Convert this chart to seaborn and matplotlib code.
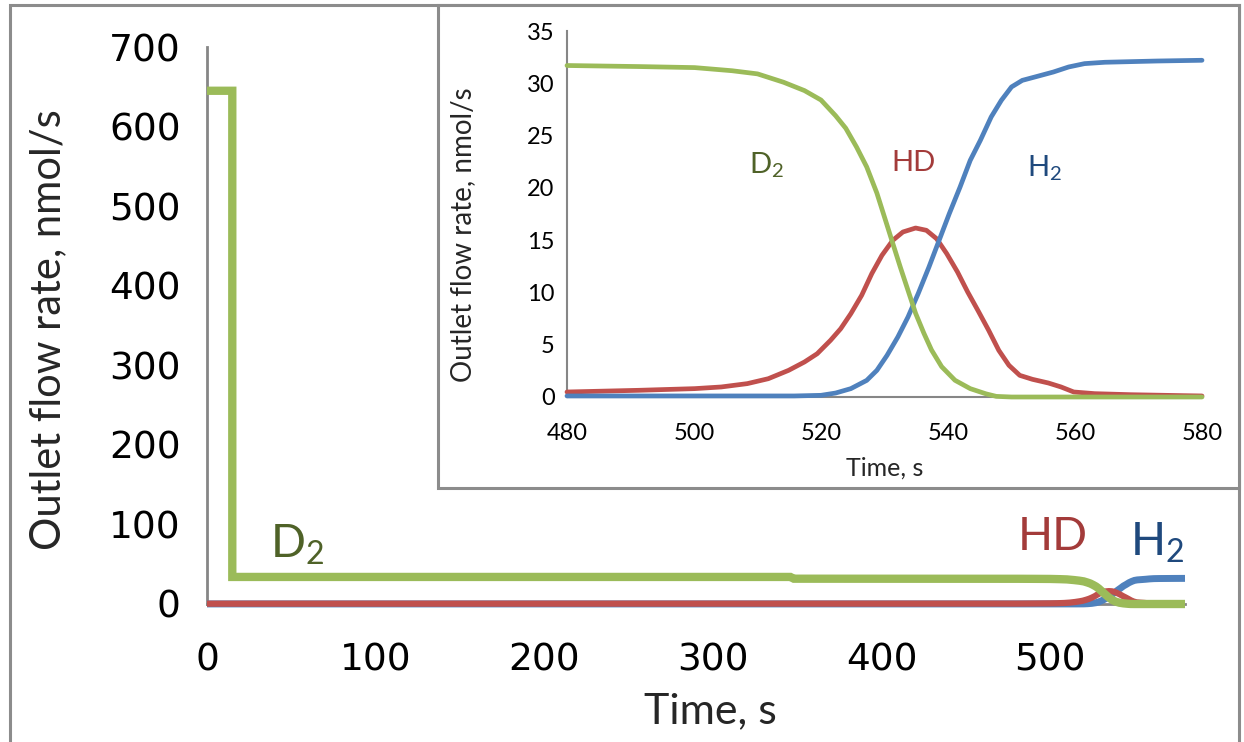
import matplotlib
matplotlib.use("Agg")
import matplotlib.pyplot as plt
from matplotlib.patches import Rectangle
import seaborn as sns
import pandas as pd

# ---- data -------------------------------------------------------------
# early part of the run (main panel only)
d2_early_t = [0, 15, 15, 346, 348, 470]
d2_early_v = [645, 645, 34, 34, 31.8, 31.7]
hd_early_t = [0, 470]
hd_early_v = [0.4, 0.5]
h2_early_t = [0, 470]
h2_early_v = [0.1, 0.1]

# breakthrough region, 480-580 s
d2_t = [480, 491.3, 500.1, 506, 510, 514.1, 517.4, 520, 522.3, 523.9, 525.6,
        527.2, 528.8, 530, 531.3, 532.5, 533.7, 534.9, 536.2, 537.4, 539,
        541.1, 543.5, 546, 547.6, 550, 565, 580]
d2_v = [31.7, 31.6, 31.5, 31.2, 30.9, 30.1, 29.3, 28.4, 26.9, 25.7, 23.9,
        22.0, 19.5, 17.2, 14.7, 12.4, 10.2, 8.0, 6.1, 4.5, 2.9,
        1.6, 0.8, 0.3, 0.06, 0.0, 0.0, 0.0]
hd_t = [480, 491.3, 500.1, 504.3, 508.4, 511.7, 514.9, 517.4, 519.4, 521.5,
        523.1, 524.7, 526.4, 528.0, 529.6, 531.3, 532.9, 534.9, 536.6, 538.2,
        539.8, 541.5, 543.1, 544.7, 546.4, 548.0, 549.6, 551.3, 553.3, 555.8,
        557.8, 559.8, 563.1, 568.8, 577.0, 580]
hd_v = [0.48, 0.64, 0.80, 0.96, 1.28, 1.75, 2.55, 3.35, 4.14, 5.42,
        6.53, 7.97, 9.72, 11.8, 13.55, 14.98, 15.78, 16.16, 15.94, 15.14,
        13.71, 11.95, 10.04, 8.29, 6.38, 4.46, 3.03, 2.07, 1.69, 1.34,
        0.96, 0.48, 0.32, 0.22, 0.13, 0.1]
h2_t = [480, 515.8, 520.0, 522.3, 524.7, 527.2, 528.8, 530.4, 532.1, 533.7,
        535.3, 537.0, 538.6, 540.2, 541.9, 543.5, 545.1, 546.8, 548.4, 550.0,
        551.7, 554.1, 556.6, 559.0, 561.5, 564.7, 568.8, 572.9, 580]
h2_v = [0.1, 0.1, 0.16, 0.38, 0.8, 1.59, 2.55, 3.98, 5.74, 7.65,
        9.88, 12.43, 14.98, 17.53, 20.08, 22.63, 24.55, 26.78, 28.37, 29.65,
        30.28, 30.67, 31.08, 31.56, 31.88, 32.01, 32.07, 32.13, 32.2]

species = ["D$_{\\mathrm{2}}$", "HD", "H$_{\\mathrm{2}}$"]
main_xticks = [0, 100, 200, 300, 400, 500]
main_yticks = [0, 100, 200, 300, 400, 500, 600, 700]
inset_xticks = [480, 500, 520, 540, 560, 580]
inset_yticks = [0, 5, 10, 15, 20, 25, 30, 35]
axis_x_title = "Time, s"
axis_y_title = "Outlet flow rate, nmol/s"

# ---- style ------------------------------------------------------------
sns.set_theme(style="white")
LABEL_FONT = ["Lato", "Open Sans", "DejaVu Sans"]
plt.rcParams["font.family"] = ["DejaVu Sans"]
plt.rcParams["mathtext.fontset"] = "custom"
plt.rcParams["mathtext.rm"] = "Lato"
plt.rcParams["mathtext.it"] = "Lato:italic"

GREEN, RED, BLUE = "#9BBB59", "#C0504D", "#4F81BD"
GREEN_T, RED_T, BLUE_T = "#4F6228", "#A33B3A", "#1F497D"
AXIS = "#868686"

W, H = 1244, 742
fig = plt.figure(figsize=(W / 100, H / 100), dpi=100)


def box(l, t, r, b):
    return [l / W, 1 - b / H, (r - l) / W, (b - t) / H]


def px(x, y):
    return x / W, 1 - y / H


def series(t, v, name):
    return pd.DataFrame({"t": t, "v": v, "s": name})


# ---- main panel -------------------------------------------------------
ax = fig.add_axes(box(207, 47, 1185, 604))
full = pd.concat([
    series(d2_early_t + d2_t, d2_early_v + d2_v, "D2"),
    series(hd_early_t + hd_t, hd_early_v + hd_v, "HD"),
    series(h2_early_t + h2_t, h2_early_v + h2_v, "H2"),
])
for name, col, lw in [("H2", BLUE, 5.0), ("HD", RED, 4.5), ("D2", GREEN, 6)]:
    sns.lineplot(data=full[full.s == name], x="t", y="v", color=col, lw=lw,
                 estimator=None, sort=False, ax=ax, solid_capstyle="butt",
                 solid_joinstyle="miter", clip_on=False, zorder=3)
ax.set_xlim(0, 580)
ax.set_ylim(0, 700)
ax.set_xticks(main_xticks)
ax.set_yticks(main_yticks)
ax.tick_params(axis="both", direction="out", color=AXIS, width=2,
               labelsize=27, labelcolor="black")
ax.tick_params(axis="y", length=10, pad=9)
ax.tick_params(axis="x", length=8, pad=20)
for side in ["top", "right"]:
    ax.spines[side].set_visible(False)
for side in ["left", "bottom"]:
    ax.spines[side].set_color(AXIS)
    ax.spines[side].set_linewidth(2)
    ax.spines[side].set_zorder(2)
ax.set_xlabel("")
ax.set_ylabel("")
ax.grid(False)

fig.text(*px(710, 711), axis_x_title, family=LABEL_FONT, fontsize=31,
         ha="center", va="center")
fig.text(*px(48, 330), axis_y_title, family=LABEL_FONT, fontsize=30,
         rotation=90, ha="center", va="center")

fig.text(*px(297, 545), species[0], color=GREEN_T, fontsize=33,
         family=LABEL_FONT, ha="center", va="center")
fig.text(*px(1053, 537), species[1], color=RED_T, fontsize=33,
         family=LABEL_FONT, ha="center", va="center")
fig.text(*px(1157, 543), species[2], color=BLUE_T, fontsize=33,
         family=LABEL_FONT, ha="center", va="center")

# ---- frames -----------------------------------------------------------
fig.patches.append(Rectangle((10 / W, -0.01), 1229 / W, 1 - 5 / H + 0.01,
                             transform=fig.transFigure, fill=False,
                             edgecolor="#8c8c8c", lw=2.2, zorder=5))
fig.patches.append(Rectangle((438 / W, 1 - 488 / H), (1239 - 438) / W,
                             (488 - 5) / H, transform=fig.transFigure,
                             facecolor="white", edgecolor="#8c8c8c", lw=2.2,
                             zorder=5))

# ---- inset ------------------------------------------------------------
ins = fig.add_axes(box(567, 31, 1202, 397), zorder=10)
ins.patch.set_alpha(0)
zoom = pd.concat([series(d2_t, d2_v, "D2"), series(hd_t, hd_v, "HD"),
                  series(h2_t, h2_v, "H2")])
for name, col in [("HD", RED), ("H2", BLUE), ("D2", GREEN)]:
    sns.lineplot(data=zoom[zoom.s == name], x="t", y="v", color=col, lw=3.4,
                 estimator=None, sort=False, ax=ins, clip_on=False, zorder=3)
ins.set_xlim(480, 580)
ins.set_ylim(0, 35)
ins.set_xticks(inset_xticks)
ins.set_yticks(inset_yticks)
ins.tick_params(axis="both", direction="out", color=AXIS, width=1.5, length=6,
                labelsize=17, labelcolor="black")
ins.tick_params(axis="x", pad=13)
ins.tick_params(axis="y", pad=3)
for lab in ins.get_xticklabels() + ins.get_yticklabels():
    lab.set_family(LABEL_FONT)
for side in ["top", "right"]:
    ins.spines[side].set_visible(False)
for side in ["left", "bottom"]:
    ins.spines[side].set_color(AXIS)
    ins.spines[side].set_linewidth(1.5)
    ins.spines[side].set_zorder(2)
ins.set_xlabel("")
ins.set_ylabel("")
ins.grid(False)

fig.text(*px(885, 468), axis_x_title, family=LABEL_FONT, fontsize=18,
         ha="center", va="center", zorder=11)
fig.text(*px(463, 235), axis_y_title, family=LABEL_FONT, fontsize=20,
         rotation=90, ha="center", va="center", zorder=11)

fig.text(*px(767, 165), species[0], color=GREEN_T, fontsize=21,
         family=LABEL_FONT, ha="center", va="center", zorder=11)
fig.text(*px(913, 163), species[1], color=RED_T, fontsize=21,
         family=LABEL_FONT, ha="center", va="center", zorder=11)
fig.text(*px(1045, 168), species[2], color=BLUE_T, fontsize=21,
         family=LABEL_FONT, ha="center", va="center", zorder=11)

fig.savefig("out.png", dpi=100, facecolor="white")
